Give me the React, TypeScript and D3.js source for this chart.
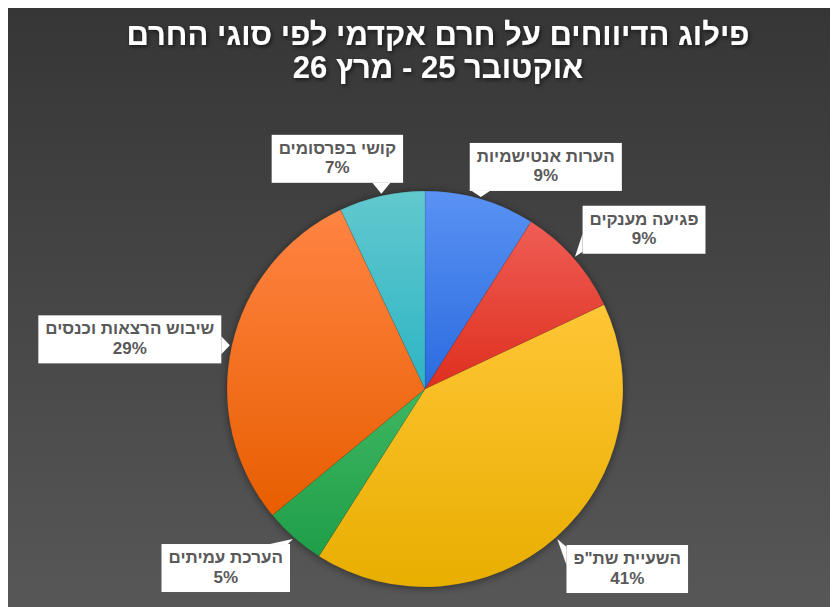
import React, { useEffect, useRef } from "react";
import * as d3 from "d3";

const titleLines = ["פילוג הדיווחים על חרם אקדמי לפי סוגי החרם", "אוקטובר 25 - מרץ 26"];
const categories = ["הערות אנטישמיות", "פגיעה מענקים", "השעיית שת\"פ", "הערכת עמיתים", "שיבוש הרצאות וכנסים", "קושי בפרסומים"];
const values = [9, 9, 41, 5, 29, 7];
const colorsTop = ["#5a92f3", "#ef5d55", "#ffc636", "#3fb662", "#ff8443", "#62c8ce"];
const colorsBottom = ["#2a6bdf", "#de2f1e", "#e8ae00", "#1f9e48", "#e85e00", "#2db5c4"];
// label box centre offsets relative to callout tip (layout)
const labelOffsets: [number, number][] = [[65, -30], [69, -27], [70, 30], [-67, 29], [-100, -6], [-44, -35]];

const W = 830, H = 599;
const CX = 417, CY = 381, R = 198;
const FONT = "'Liberation Sans', Arial, sans-serif";

export default function App() {
  const ref = useRef<SVGSVGElement>(null);
  useEffect(() => {
    const svg = d3.select(ref.current);
    svg.selectAll("*").remove();
    const defs = svg.append("defs");
    const bg = defs.append("linearGradient").attr("id", "bg").attr("x1", 0).attr("y1", 0).attr("x2", 0).attr("y2", 1);
    bg.append("stop").attr("offset", "0%").attr("stop-color", "#363636");
    bg.append("stop").attr("offset", "100%").attr("stop-color", "#575757");
    values.forEach((_, i) => {
      const g = defs.append("linearGradient").attr("id", "sg" + i).attr("x1", 0).attr("y1", 0).attr("x2", 0).attr("y2", 1);
      g.append("stop").attr("offset", "0%").attr("stop-color", colorsTop[i]);
      g.append("stop").attr("offset", "100%").attr("stop-color", colorsBottom[i]);
    });
    const ts = defs.append("filter").attr("id", "tshadow").attr("x", "-10%").attr("y", "-30%").attr("width", "120%").attr("height", "160%");
    ts.append("feDropShadow").attr("dx", 1.5).attr("dy", 2).attr("stdDeviation", 2).attr("flood-color", "#000").attr("flood-opacity", 0.6);
    const ps = defs.append("filter").attr("id", "pshadow").attr("x", "-20%").attr("y", "-20%").attr("width", "140%").attr("height", "140%");
    ps.append("feDropShadow").attr("dx", 0).attr("dy", 1).attr("stdDeviation", 4).attr("flood-color", "#000").attr("flood-opacity", 0.45);

    svg.append("rect").attr("width", W).attr("height", H).attr("fill", "url(#bg)");

    const title = svg.append("g").attr("filter", "url(#tshadow)");
    titleLines.forEach((t, i) => {
      title.append("text").attr("x", 430).attr("y", 29 + i * 33)
        .attr("text-anchor", "middle").attr("dominant-baseline", "middle")
        .attr("direction", "rtl").attr("fill", "#fff")
        .attr("font-family", FONT).attr("font-weight", "bold").attr("font-size", 31)
        .text(t);
    });

    const total = d3.sum(values);
    const pie = d3.pie<number>().sort(null).value(d => d);
    const arcs = pie(values);
    const arc = d3.arc<d3.PieArcDatum<number>>().innerRadius(0).outerRadius(R);
    const pg = svg.append("g").attr("transform", `translate(${CX},${CY})`);
    pg.append("circle").attr("r", R).attr("fill", "#444").attr("filter", "url(#pshadow)");
    pg.selectAll("path.slice").data(arcs).join("path").attr("class", "slice")
      .attr("d", arc as any)
      .attr("fill", (_, i) => `url(#sg${i})`)
      .attr("stroke", "rgba(0,0,0,0.12)").attr("stroke-width", 0.8);

    const fmt = d3.format(".0%");
    const lg = svg.append("g");
    arcs.forEach((a, i) => {
      const mid = (a.startAngle + a.endAngle) / 2;
      const tx = CX + Math.sin(mid) * (R + 2);
      const ty = CY - Math.cos(mid) * (R + 2);
      const bx = tx + labelOffsets[i][0];
      const by = ty + labelOffsets[i][1];
      const g = lg.append("g");
      const t1 = g.append("text").attr("x", bx).attr("y", by - 9.5)
        .attr("text-anchor", "middle").attr("dominant-baseline", "middle").attr("direction", "rtl")
        .attr("fill", "#595959").attr("font-family", FONT).attr("font-weight", "bold").attr("font-size", 17)
        .text(categories[i]);
      const t2 = g.append("text").attr("x", bx).attr("y", by + 10)
        .attr("text-anchor", "middle").attr("dominant-baseline", "middle")
        .attr("fill", "#595959").attr("font-family", FONT).attr("font-weight", "bold").attr("font-size", 17)
        .text(fmt(values[i] / total));
      const w = Math.max((t1.node() as SVGTextElement).getComputedTextLength(), (t2.node() as SVGTextElement).getComputedTextLength()) + 14;
      const h = 48;
      const L = bx - w / 2, Rt = bx + w / 2, T = by - h / 2, B = by + h / 2;
      const outL = L - tx, outR = tx - Rt, outT = T - ty, outB = ty - B;
      const m = Math.max(outL, outR, outT, outB);
      let p1: [number, number], p2: [number, number];
      const hw = 9;
      if (m === outT || m === outB) {
        const ey = m === outT ? T : B;
        const c = Math.max(L + hw + 2, Math.min(Rt - hw - 2, tx));
        p1 = [c - hw, ey]; p2 = [c + hw, ey];
      } else {
        const ex = m === outL ? L : Rt;
        const c = Math.max(T + hw + 2, Math.min(B - hw - 2, ty));
        p1 = [ex, c - hw]; p2 = [ex, c + hw];
      }
      g.insert("path", "text").attr("d", `M${p1[0]},${p1[1]}L${tx},${ty}L${p2[0]},${p2[1]}Z`).attr("fill", "#fff");
      g.insert("rect", "text").attr("x", L).attr("y", T).attr("width", w).attr("height", h).attr("fill", "#fff");
    });
  }, []);
  return <svg ref={ref} width={W} height={H} style={{ display: "block" }} />;
}
